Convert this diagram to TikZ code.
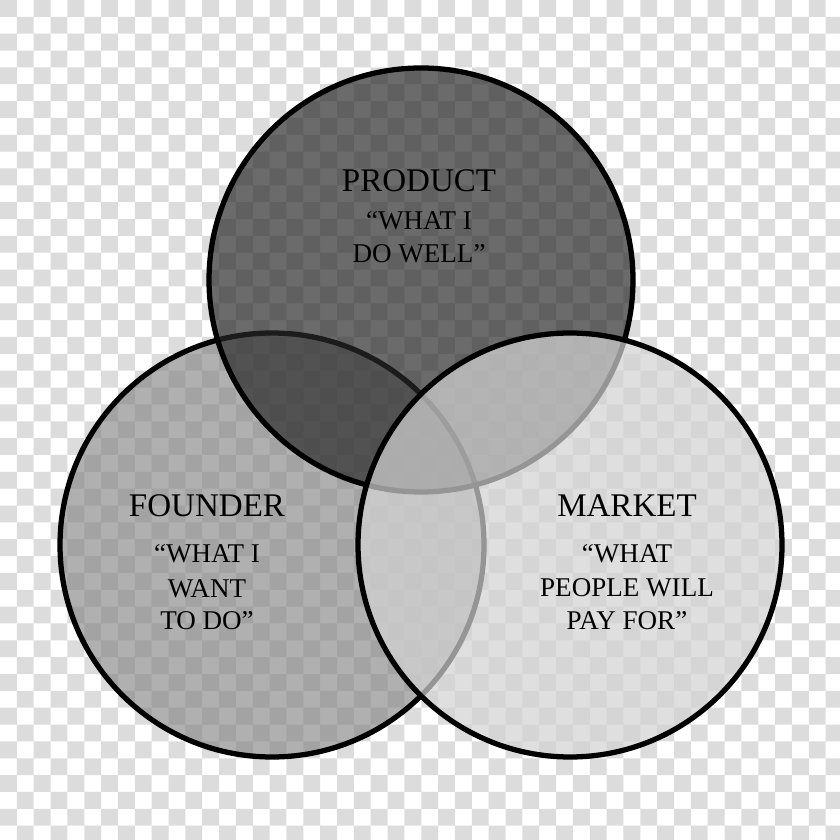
\documentclass[tikz,border=0pt]{standalone}
\usepackage{fontspec}
\setmainfont{Liberation Serif}
\usepackage{xcolor}
\usepackage{tikz}
\definecolor{chkgray}{RGB}{220,220,220}
\definecolor{prodfill}{RGB}{41,41,41}
\definecolor{foundfill}{RGB}{130,130,130}
\definecolor{markfill}{RGB}{211,211,211}

\begin{document}
\begin{tikzpicture}[
  venn/.style={draw=black,line width=1.5pt,fill opacity=0.69},
  title/.style={anchor=base,inner sep=0pt,font=\fontsize{9.4}{11}\selectfont},
  quote/.style={anchor=base,inner sep=0pt,font=\fontsize{7.7}{9.7}\selectfont}]
\useasboundingbox (0,0) rectangle (8.4,8.4);
\clip (0,0) rectangle (8.4,8.4);
% transparency checkerboard
\def\sq{0.1685}
\fill[white] (0,0) rectangle (8.4,8.4);
\fill[chkgray] \foreach \c in {0,...,49} {\foreach \k in {0,...,25}
  {({\c*\sq},{8.4-(2*\k+mod(\c,2)+1)*\sq}) rectangle ++(\sq,\sq)}};
% circles
\draw[venn,fill=foundfill,fill opacity=0.63] (2.72,2.95) circle[radius=2.12];
\draw[venn,fill=prodfill,fill opacity=0.69] (4.21,5.60) circle[radius=2.12];
\draw[venn,fill=markfill,fill opacity=0.71] (5.70,2.95) circle[radius=2.12];
% labels
\node[title] (prodname) at (4.19,6.48) {PRODUCT};
\node[quote] (prodq1) at (4.19,6.10) {“WHAT I};
\node[quote] (prodq2) at (4.19,5.77) {DO WELL”};
\node[title] (foundname) at (2.07,3.23) {FOUNDER};
\node[quote] (foundq1) at (2.07,2.77) {“WHAT I};
\node[quote] (foundq2) at (2.07,2.42) {WANT};
\node[quote] (foundq3) at (2.07,2.10) {TO DO”};
\node[title] (markname) at (6.27,3.23) {MARKET};
\node[quote] (markq1) at (6.27,2.77) {“WHAT};
\node[quote] (markq2) at (6.27,2.43) {PEOPLE WILL};
\node[quote] (markq3) at (6.27,2.10) {PAY FOR”};
\end{tikzpicture}
\end{document}
